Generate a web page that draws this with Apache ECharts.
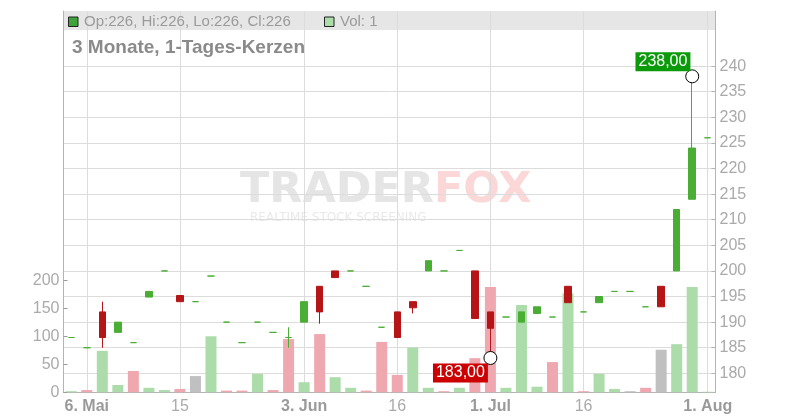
<!DOCTYPE html>
<html>
<head>
<meta charset="utf-8">
<script src="https://cdn.jsdelivr.net/npm/echarts@6/dist/echarts.min.js"></script>
<style>
html,body{margin:0;padding:0;background:#fff;}
#chart{width:800px;height:420px;}
</style>
</head>
<body>
<div id="chart"></div>
<script>
// ---- data ----
const categories = ['03.05.','06.05.','07.05.','08.05.','10.05.','13.05.','14.05.','15.05.','16.05.','17.05.',
  '21.05.','22.05.','24.05.','28.05.','30.05.','03.06.','04.06.','06.06.','07.06.','11.06.',
  '13.06.','17.06.','18.06.','20.06.','24.06.','26.06.','28.06.','01.07.','02.07.','04.07.',
  '05.07.','09.07.','11.07.','16.07.','17.07.','19.07.','22.07.','24.07.','26.07.','29.07.',
  '30.07.','01.08.'];
const opens  = [187,185,192,188,186,194.9,200,195.2,194,199, 190,186,190,188,187,190,197,200,200,197, 189,192,194,200,200,204,200,192,191,190, 191.7,191,197,192,193.8,196,196,193,197,200, 214,226];
const highs  = [187,185,194,190,186,196,200,195.2,194,199, 190,186,190,188,189,194,197,200,200,197, 189,192,194,202,200,204,200,192,191,192, 193,191,197,192,195,196,196,193,197,212, 238,226];
const lows   = [187,185,185,188,186,194.9,200,194,194,199, 190,186,190,188,185,190,189.7,198.7,200,197, 189,187,191.7,200,200,204,190.7,183,191,190, 191.7,191,193.8,192,193.8,196,196,193,193,200, 214,226];
const closes = [187,185,187,190,186,196,200,194,194,199, 190,186,190,188,187,194,192,198.7,200,197, 189,187,192.8,202,200,204,190.7,188.8,191,192, 193,191,193.8,192,195,196,196,193,193,212, 224,226];
const volumes = [2,4,74,13,38,8,4,6,29,100, 3,3,33,4,95,18,104,27,8,3, 90,31,80,8,2,8,61,188,8,156, 10,54,177,2,33,6,2,8,76,86, 188,1];
const tickIndex = [1,7,15,21,27,33,41];
const tickText  = ['6. Mai','15','3. Jun','16','1. Jul','16','1. Aug'];
const tickIsMonth = [true,false,true,false,true,false,true];
const titleText = '3 Monate, 1-Tages-Kerzen';

// ---- styles ----
const GREEN = '#4aad34', RED = '#b51517';
const VOL_UP = '#acdcaa', VOL_DOWN = '#efa8b0', VOL_EQ = '#c0c0c0';
const AXIS = '#b4b4b4', GRIDC = '#dcdcdc', LABEL = '#aaaaaa';
const FONT = '"Liberation Sans", Arial, sans-serif';

const candleData = categories.map((c, i) => {
  const item = { value: [opens[i], closes[i], lows[i], highs[i]] };
  if (opens[i] === closes[i]) item.itemStyle = { color0: GREEN, borderColor0: GREEN, color: GREEN, borderColor: GREEN };
  return item;
});
const volData = volumes.map((v, i) => {
  let col = VOL_UP;
  if (i > 0) {
    if (closes[i] < closes[i - 1]) col = VOL_DOWN;
    else if (closes[i] === closes[i - 1]) col = VOL_EQ;
  }
  return { value: v, itemStyle: { color: col } };
});

let hiIdx = 0, loIdx = 0;
highs.forEach((h, i) => { if (h > highs[hiIdx]) hiIdx = i; });
lows.forEach((l, i) => { if (l < lows[loIdx]) loIdx = i; });
const fmtNum = v => v.toFixed(2).replace('.', ',');

const last = categories.length - 1;
const legendText = 'Op:' + opens[last] + ', Hi:' + highs[last] + ', Lo:' + lows[last] + ', Cl:' + closes[last];

const L = 63.5, R = 800 - 715.5, B = 420 - 392.3;
const showTick = (idx) => tickIndex.indexOf(idx) >= 0;

const chart = echarts.init(document.getElementById('chart'));
chart.setOption({
  animation: false,
  textStyle: { fontFamily: FONT },
  grid: [
    { left: L, right: R, top: 11, bottom: B },
    { left: L, right: R, top: 66.1, bottom: B },
    { left: L, right: R, top: 280.3, bottom: B }
  ],
  xAxis: [
    {
      type: 'category', gridIndex: 0, data: categories, boundaryGap: true,
      axisLine: { lineStyle: { color: AXIS } },
      axisTick: { alignWithLabel: true, interval: (i) => showTick(i), length: 4, lineStyle: { color: AXIS } },
      axisLabel: {
        interval: (i) => showTick(i), margin: 6,
        formatter: (v, i) => {
          const k = tickIndex.indexOf(i);
          if (k < 0) return '';
          return tickIsMonth[k] ? '{b|' + tickText[k] + '}' : '{n|' + tickText[k] + '}';
        },
        rich: {
          b: { fontSize: 16, fontWeight: 'bold', color: '#9a9a9a', fontFamily: FONT },
          n: { fontSize: 16, color: LABEL, fontFamily: FONT }
        }
      },
      splitLine: { show: true, alignWithLabel: true, interval: (i) => showTick(i), lineStyle: { color: GRIDC } }
    },
    { type: 'category', gridIndex: 1, data: categories, boundaryGap: true, show: false },
    { type: 'category', gridIndex: 2, data: categories, boundaryGap: true, show: false }
  ],
  yAxis: [
    { type: 'value', gridIndex: 0, position: 'left', min: 0, max: 1,
      axisLine: { show: true, lineStyle: { color: AXIS } }, axisTick: { show: false }, axisLabel: { show: false }, splitLine: { show: false } },
    { type: 'value', gridIndex: 0, position: 'right', min: 0, max: 1,
      axisLine: { show: true, lineStyle: { color: AXIS } }, axisTick: { show: false }, axisLabel: { show: false }, splitLine: { show: false } },
    { type: 'value', gridIndex: 1, position: 'right', min: 176.3, max: 240, splitNumber: 13, scale: true,
      axisLine: { show: false },
      axisTick: { show: true, inside: true, length: 4, lineStyle: { color: AXIS } },
      axisLabel: { color: LABEL, fontSize: 16, margin: 4, showMinLabel: false, fontFamily: FONT },
      splitLine: { show: true, showMinLine: false, lineStyle: { color: GRIDC } } },
    { type: 'value', gridIndex: 2, position: 'left', min: 0, max: 200, interval: 50,
      axisLine: { show: false },
      axisTick: { show: true, inside: true, length: 4, lineStyle: { color: '#999' } },
      axisLabel: { color: LABEL, fontSize: 16, margin: 4, fontFamily: FONT },
      splitLine: { show: false } }
  ],
  graphic: [
    { type: 'rect', z: -10, shape: { x: 63.5, y: 11, width: 652, height: 19 }, style: { fill: '#e6e6e6' } },
    { type: 'text', z: -10, x: 240, y: 191, style: {
        text: '{a|TRADER}{b|FOX}', verticalAlign: 'middle',
        rich: {
          a: { fill: '#e5e5e5', fontSize: 43, fontWeight: 'bold', fontFamily: '"DejaVu Sans"' },
          b: { fill: '#fbd7d7', fontSize: 43, fontWeight: 'bold', fontFamily: '"DejaVu Sans"' }
        } } },
    { type: 'text', z: -10, x: 250, y: 218, style: { text: 'REALTIME STOCK SCREENING', fill: '#e9e9e9', font: '12px "DejaVu Sans"', verticalAlign: 'middle' } },
    { type: 'rect', z: 10, shape: { x: 68.5, y: 17, width: 9.5, height: 9.5 }, style: { fill: '#3ea33a', stroke: '#222', lineWidth: 1 } },
    { type: 'text', z: 10, x: 84, y: 21.8, style: { text: legendText, fill: '#9a9a9a', font: '15px ' + FONT, verticalAlign: 'middle' } },
    { type: 'rect', z: 10, shape: { x: 324.5, y: 17, width: 9.5, height: 9.5 }, style: { fill: VOL_UP, stroke: '#222', lineWidth: 1 } },
    { type: 'text', z: 10, x: 340, y: 21.8, style: { text: 'Vol: ' + volumes[last], fill: '#9a9a9a', font: '15px ' + FONT, verticalAlign: 'middle' } },
    { type: 'text', z: 10, x: 72, y: 47.8, style: { text: titleText, fill: '#8a8a8a', font: 'bold 19px ' + FONT, verticalAlign: 'middle' } }
  ],
  series: [
    {
      type: 'bar', xAxisIndex: 2, yAxisIndex: 3, data: volData, barWidth: 11, z: 1
    },
    {
      type: 'candlestick', xAxisIndex: 1, yAxisIndex: 2, data: candleData, barWidth: 7, z: 2,
      itemStyle: { color: GREEN, color0: RED, borderColor: GREEN, borderColor0: RED, borderWidth: 1 },
      markPoint: {
        symbol: 'circle', symbolSize: 13,
        itemStyle: { color: '#fff', borderColor: '#000', borderWidth: 1 },
        data: [
          { coord: [hiIdx, highs[hiIdx]], value: highs[hiIdx],
            label: { show: true, formatter: p => fmtNum(p.value), position: [5.2, 1.9], align: 'right', verticalAlign: 'bottom',
              color: '#fff', backgroundColor: '#0a9a0a', padding: [1, 3], fontSize: 16, lineHeight: 17, fontFamily: FONT } },
          { coord: [loIdx, lows[loIdx]], value: lows[loIdx],
            label: { show: true, formatter: p => fmtNum(p.value), position: [4.5, 12.6], align: 'right', verticalAlign: 'top',
              color: '#fff', backgroundColor: '#cc0000', padding: [1, 3], fontSize: 16, lineHeight: 17, fontFamily: FONT } }
        ]
      }
    }
  ]
});
</script>
</body>
</html>
